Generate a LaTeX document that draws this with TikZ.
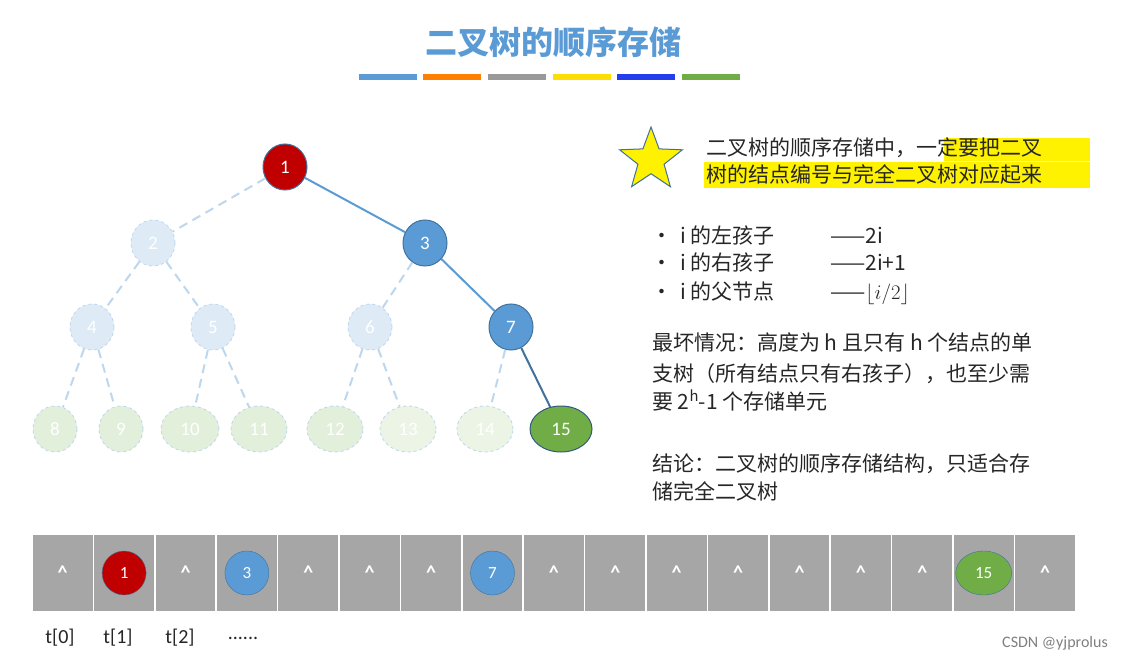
\documentclass[tikz,border=0pt]{standalone}
\usepackage{fontspec}
\setmainfont{Carlito}
\newfontfamily\cjk{Noto Sans CJK SC}
\usetikzlibrary{shapes.geometric}
\definecolor{tblue}{HTML}{5B9BD5}
\definecolor{dblue}{HTML}{41719C}
\definecolor{fblue}{HTML}{DEEBF7}
\definecolor{fbord}{HTML}{BDD7EE}
\definecolor{fgreen}{HTML}{E2EFDA}
\definecolor{tred}{HTML}{C00000}
\definecolor{tgreen}{HTML}{70AD47}
\definecolor{cellg}{HTML}{A6A6A6}
\tikzset{
 nd/.style={ellipse,minimum width=44pt,minimum height=46pt,inner sep=0pt,text=white,font=\fontsize{19}{19}\selectfont},
 faded/.style={nd,fill=fblue,draw=fbord,dashed,line width=0.8pt},
 fadedg/.style={nd,fill=fgreen,draw=fbord,dashed,line width=0.8pt},
 real/.style={nd,fill=tblue,draw=dblue,line width=1pt},
 fedge/.style={draw=fbord,dash pattern=on 9pt off 6pt,line width=2pt},
 sedge/.style={draw=tblue,line width=2pt},
 cell/.style={rectangle,fill=cellg,draw=white,line width=1.5pt,minimum width=61.4pt,minimum height=78pt,inner sep=0pt,text=white,font=\bfseries\fontsize{20}{20}\selectfont},
 small/.style={ellipse,minimum width=44pt,minimum height=44pt,inner sep=0pt,text=white,font=\fontsize{17}{17}\selectfont},
 txt/.style={anchor=base west,inner sep=0pt,font=\cjk\fontsize{21}{21}\selectfont,text=black!85},
 lbl/.style={font=\fontsize{20}{20}\selectfont,text=black!85}
}
\begin{document}
\begin{tikzpicture}[x=1pt,y=-1pt]
\useasboundingbox (0,0) rectangle (1141,663);
\fill[white] (0,0) rectangle (1141,663);
% title
\node[font=\cjk\bfseries\fontsize{32}{32}\selectfont,text=tblue] (title) at (553,42) {二叉树的顺序存储};
\fill[tblue] (359,74) rectangle ++(58,6);
\fill[orange] (423,74) rectangle ++(58,6);
\fill[gray!80] (488,74) rectangle ++(58,6);
\fill[yellow!80!orange] (553,74) rectangle ++(58,6);
\fill[blue!60!tblue] (617,74) rectangle ++(58,6);
\fill[tgreen] (682,74) rectangle ++(58,6);
% tree
\node[faded] (n2) at (153,243) {2};
\node[real] (n3) at (425,243) {3};
\node[faded] (n4) at (92,327) {4};
\node[faded] (n5) at (213,327) {5};
\node[faded] (n6) at (370,327) {6};
\node[real] (n7) at (511,327) {7};
\node[fadedg] (n8) at (55,429) {8};
\node[fadedg] (n9) at (121,429) {9};
\node[fadedg,minimum width=58pt] (n10) at (190,429) {10};
\node[fadedg,minimum width=56pt] (n11) at (259,429) {11};
\node[fadedg,minimum width=56pt] (n12) at (335,429) {12};
\node[fadedg,minimum width=56pt,fill=fgreen!70] (n13) at (408,429) {13};
\node[fadedg,minimum width=56pt,fill=fgreen!70] (n14) at (485,429) {14};
\node[nd,minimum width=62pt,fill=tgreen,draw=dblue!80!black,line width=1pt] (n15) at (561,429) {15};
\node[nd,fill=tred,draw=dblue,line width=1pt] (n1) at (285,167) {1};
\path[fedge] (n1) -- (n2);
\path[fedge] (n2) -- (n4); \path[fedge] (n2) -- (n5);
\path[fedge] (n3) -- (n6);
\path[fedge] (n4) -- (n8); \path[fedge] (n4) -- (n9);
\path[fedge] (n5) -- (n10); \path[fedge] (n5) -- (n11);
\path[fedge] (n6) -- (n12); \path[fedge] (n6) -- (n13);
\path[fedge] (n7) -- (n14);
\path[sedge] (n1) -- (n3);
\path[sedge] (n3) -- (n7);
\path[sedge,draw=dblue] (n7) -- (n15);
% star
\node[star,star points=5,star point ratio=2.4,fill=yellow,draw=dblue,line width=1pt,minimum size=66pt,inner sep=0pt] (star) at (651,160) {};
\fill[yellow] (944,138) rectangle (1090,161);
\fill[yellow] (704,162) rectangle (1090,188);
\node[txt] (l1) at (706,156) {二叉树的顺序存储中，一定要把二叉};
\node[txt] (l2) at (706,183) {树的结点编号与完全二叉树对应起来};
% bullets
\node[txt] (b1) at (651,244) {•};
\node[txt] (b2) at (651,271) {•};
\node[txt] (b3) at (651,299) {•};
\node[txt] (ba1) at (680,244) {i 的左孩子};
\node[txt] (ba2) at (680,271) {i 的右孩子};
\node[txt] (ba3) at (680,299) {i 的父节点};
\node[txt] (bb1) at (830,244) {——2i};
\node[txt] (bb2) at (830,271) {——2i+1};
\node[txt] (bb3) at (830,299) {——$\lfloor i/2\rfloor$};
\node[txt] (p1) at (652,350) {最坏情况：高度为 h 且只有 h 个结点的单};
\node[txt] (p2) at (652,381) {支树（所有结点只有右孩子），也至少需};
\node[txt] (p3) at (652,409) {要 2\textsuperscript{h}-1 个存储单元};
\node[txt] (k1) at (652,471) {结论：二叉树的顺序存储结构，只适合存};
\node[txt] (k2) at (652,499) {储完全二叉树};
% array
\foreach \i in {0,1,2,3,4,5,6,7,8,9,10,11,12,13,14,15,16}{
  \node[cell] (c\i) at ({62.7+61.4*\i},573) {};
}
\foreach \i in {0,2,4,5,6,8,9,10,11,12,13,14,16}{
  \node[font=\bfseries\fontsize{20}{20}\selectfont,text=white] at (c\i) {\textasciicircum};
}
\node[small,fill=tred,draw=dblue] (a1) at (c1) {1};
\node[small,fill=tblue,draw=dblue] (a3) at (c3) {3};
\node[small,fill=tblue,draw=dblue] (a7) at (c7) {7};
\node[small,minimum width=56pt,fill=tgreen,draw=dblue] (a15) at (c15) {15};
\node[lbl] (t0) at (60,638) {t[0]};
\node[lbl] (t1) at (118,638) {t[1]};
\node[lbl] (t2) at (180,638) {t[2]};
\node[lbl] (td) at (243,638) {......};
\node[font=\fontsize{16}{16}\selectfont,text=gray] (wm) at (1055,643) {CSDN @yjprolus};
\end{tikzpicture}
\end{document}
